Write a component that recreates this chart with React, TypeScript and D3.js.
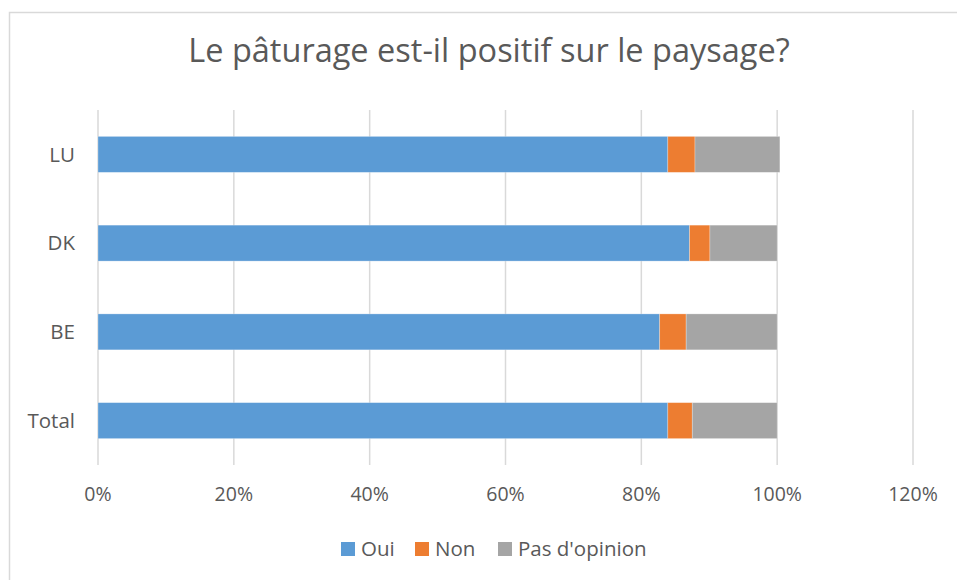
import React from "react";
import * as d3 from "d3";

const categories = ["LU", "DK", "BE", "Total"];
const seriesNames = ["Oui", "Non", "Pas d'opinion"];
const oui = [83.9, 87.1, 82.7, 83.9];
const non = [4.0, 3.0, 3.9, 3.6];
const pasOpinion = [12.5, 9.9, 13.4, 12.5];
const colors = ["#5B9BD5", "#ED7D31", "#A5A5A5"];
const xTicks = [0, 20, 40, 60, 80, 100, 120];
const title = "Le pâturage est-il positif sur le paysage?";

const W = 957;
const H = 580;
const FONT = "'Open Sans', sans-serif";
const TXT = "#595959";

export default function App() {
  const plot = { left: 98, right: 913, top: 110, bottom: 465 };
  const x = d3.scaleLinear().domain([0, 120]).range([plot.left, plot.right]);
  const y = d3
    .scaleBand<string>()
    .domain(categories)
    .range([plot.top, plot.bottom])
    .paddingInner(0.595)
    .paddingOuter(0.2975);

  const rows = categories.map((c, i) => ({ cat: c, Oui: oui[i], Non: non[i], "Pas d'opinion": pasOpinion[i] }));
  const stacked = d3.stack<any>().keys(seriesNames)(rows);

  const legendItems = [
    { name: "Oui", x: 341 },
    { name: "Non", x: 415 },
    { name: "Pas d'opinion", x: 498 },
  ];

  return (
    <svg
      width={W}
      height={H}
      style={{ position: "absolute", left: 0, top: 0, background: "#fff" }}
      fontFamily={FONT}
    >
      <rect x={9.5} y={12.5} width={W + 20} height={H + 20} fill="#fff" stroke="#d9d9d9" strokeWidth={1.5} />
      <text x={489} y={62} textAnchor="middle" fontSize={32.5} fill={TXT}>
        {title}
      </text>
      {xTicks.map((t) => (
        <g key={t}>
          <line x1={x(t)} x2={x(t)} y1={plot.top} y2={plot.bottom} stroke="#d9d9d9" strokeWidth={1.5} />
          <text x={x(t)} y={501} textAnchor="middle" fontSize={19.5} fill={TXT}>
            {t + "%"}
          </text>
        </g>
      ))}
      {stacked.map((s, si) => (
        <g key={s.key} fill={colors[si]}>
          {s.map((d, i) => (
            <rect
              key={i}
              x={x(d[0])}
              y={y(categories[i])}
              width={x(d[1]) - x(d[0])}
              height={y.bandwidth()}
              stroke="#fff"
              strokeOpacity={0.35}
              strokeWidth={0.75}
            />
          ))}
        </g>
      ))}
      {categories.map((c) => (
        <text
          key={c}
          x={75}
          y={(y(c) ?? 0) + y.bandwidth() / 2}
          dy="0.35em"
          textAnchor="end"
          fontSize={20.5}
          fill={TXT}
        >
          {c}
        </text>
      ))}
      {legendItems.map((l, i) => (
        <g key={l.name}>
          <rect x={l.x} y={542} width={14} height={14} fill={colors[i]} />
          <text x={l.x + 20} y={556} fontSize={20.5} fill={TXT}>
            {l.name}
          </text>
        </g>
      ))}
    </svg>
  );
}
